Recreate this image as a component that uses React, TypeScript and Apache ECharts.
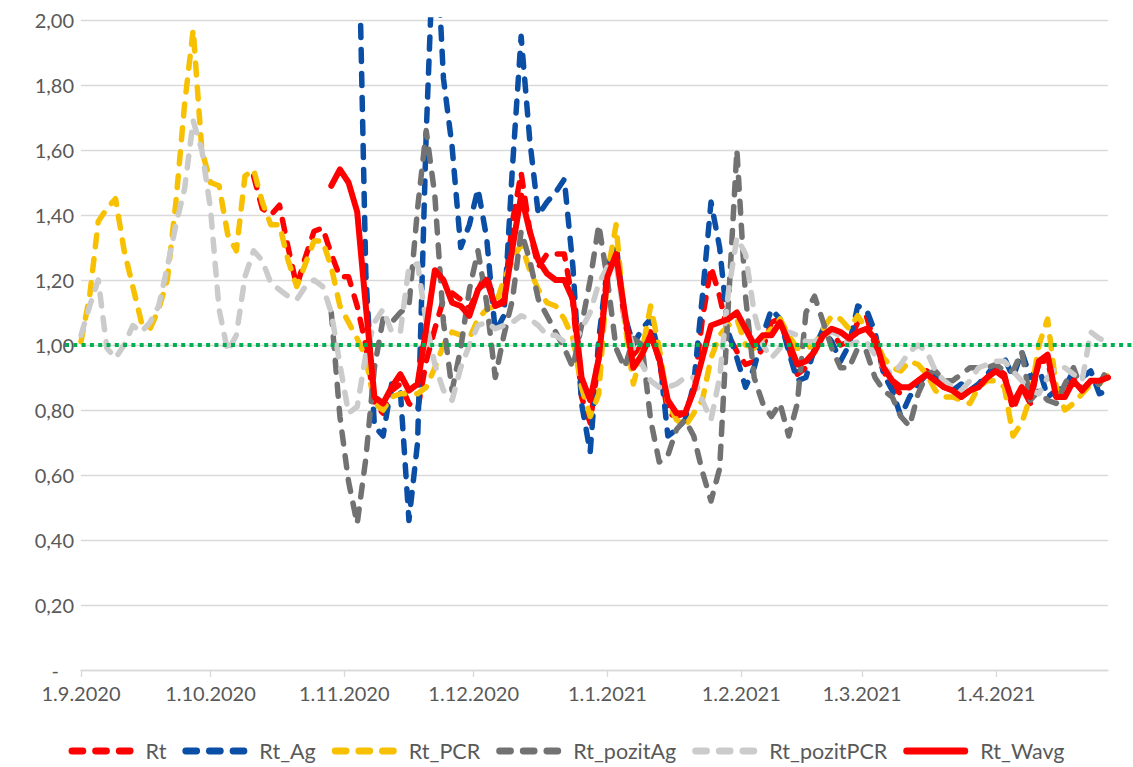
import React, { useEffect, useRef } from "react";
import * as echarts from "echarts";

// Readings are sampled every 2 days from 1.9.2020 to 27.4.2021
const START_YEAR = 2020;
const START_MONTH = 9;
const START_DAY = 1;
const STEP_DAYS = 2;
const POINTS = 120;

const MONTH_TICK_LABELS = ["1.9.2020", "1.10.2020", "1.11.2020", "1.12.2020", "1.1.2021", "1.2.2021", "1.3.2021", "1.4.2021"];

const lead = (n: number) => new Array(n).fill(null);

const RT = [
  ...lead(20),
  1.52, 1.42, 1.4, 1.43, 1.3, 1.18, 1.27, 1.35, 1.36, 1.28,
  1.21, 1.21, 1.12, 1.0, 0.82, 0.79, 0.86, 0.88, 0.82, 0.8,
  0.95, 1.05, 1.14, 1.16, 1.14, 1.11, 1.17, 1.22, 1.12, 1.14,
  1.38, 1.53, 1.35, 1.24, 1.28, 1.28, 1.28, 1.13, 0.84, 0.76,
  0.96, 1.24, 1.29, 1.07, 0.97, 1.0, 1.04, 0.95, 0.79, 0.78,
  0.79, 0.86, 1.08, 1.24, 1.15, 1.03, 0.98, 0.94, 0.95, 0.99,
  1.07, 1.08, 0.99, 0.91, 0.93, 0.98, 1.04, 1.04, 1.0, 1.01,
  1.07, 1.09, 1.0, 0.92, 0.87, 0.85, 0.87, 0.89, 0.92, 0.9,
  0.87, 0.86, 0.84, 0.86, 0.88, 0.9, 0.93, 0.91, 0.8, 0.87,
  0.82, 0.95, 0.95, 0.84, 0.84, 0.9, 0.86, 0.89, 0.89, 0.9,
];

const RT_AG = [
  ...lead(32),
  2.5, 1.22, 0.75, 0.72, 0.88, 0.86, 0.46, 0.7,
  1.65, 2.35, 1.82, 1.61, 1.3, 1.37, 1.48, 1.33, 1.04, 1.09,
  1.55, 1.95, 1.63, 1.4, 1.44, 1.47, 1.51, 1.24, 0.82, 0.67,
  1.02, 1.24, 1.31, 1.09, 1.0, 1.05, 1.08, 0.97, 0.72, 0.74,
  0.77, 0.88, 1.15, 1.44, 1.3, 1.04, 0.96, 0.87, 0.93, 1.03,
  1.11, 1.08, 0.98, 0.89, 0.9, 0.99, 1.05, 1.01, 0.95, 1.0,
  1.12, 1.11, 1.04, 0.91, 0.86, 0.78, 0.84, 0.88, 0.91, 0.91,
  0.87, 0.86, 0.88, 0.86, 0.88, 0.91, 0.94, 0.96, 0.9, 0.98,
  0.9, 0.93, 0.84, 0.86, 0.87, 0.92, 0.9, 0.92, 0.85, 0.86,
];

const RT_PCR = [
  1.01, 1.15, 1.38, 1.42, 1.45, 1.29, 1.18, 1.07, 1.05, 1.11,
  1.2, 1.44, 1.74, 1.97, 1.6, 1.5, 1.49, 1.34, 1.29, 1.52,
  1.54, 1.44, 1.37, 1.37, 1.26, 1.18, 1.25, 1.32, 1.32, 1.24,
  1.12, 1.07, 1.02, 0.96, 0.82, 0.8, 0.84, 0.85, 0.85, 0.85,
  0.87, 0.93, 1.0, 1.04, 1.03, 1.02, 1.08, 1.11, 1.12, 1.2,
  1.26, 1.31, 1.23, 1.17, 1.13, 1.12, 1.08, 1.02, 0.87, 0.78,
  0.85, 1.22, 1.37, 1.07, 0.88, 0.98, 1.12, 0.99, 0.82, 0.77,
  0.75, 0.79, 0.83, 0.96, 1.03, 1.06, 1.08, 1.0, 0.99, 1.02,
  1.05, 1.08, 1.03, 0.99, 0.99, 1.0, 1.05, 1.09, 1.08, 1.05,
  1.09, 1.05, 1.02, 0.96, 0.93, 0.92, 0.95, 0.94, 0.91, 0.86,
  0.84, 0.84, 0.83, 0.82, 0.87, 0.89, 0.89, 0.87, 0.72, 0.76,
  0.84, 1.0, 1.08, 0.87, 0.8, 0.82, 0.85, 0.88, 0.88, 0.91,
];

const RT_POZIT_AG = [
  ...lead(29),
  1.1,
  0.78, 0.58, 0.45, 0.65, 0.93, 1.08, 1.07, 1.1, 1.12, 1.42,
  1.66, 1.46, 1.07, 0.86, 0.99, 1.17, 1.29, 1.13, 0.9, 1.03,
  1.14, 1.35, 1.26, 1.14, 1.09, 1.04, 0.99, 0.93, 1.06, 1.2,
  1.37, 1.2, 0.99, 0.93, 1.02, 1.0, 0.77, 0.64, 0.66, 0.74,
  0.77, 0.72, 0.61, 0.52, 0.62, 1.12, 1.6, 1.15, 0.9, 0.82,
  0.78, 0.82, 0.72, 0.82, 1.1, 1.15, 1.07, 0.99, 0.93, 0.93,
  0.99, 0.98, 0.9, 0.86, 0.84, 0.78, 0.75, 0.85, 0.91, 0.92,
  0.89, 0.89, 0.91, 0.93, 0.93, 0.93, 0.94, 0.92, 0.92, 0.98,
  0.83, 0.86, 0.83, 0.82, 0.88, 0.93, 0.86, 0.89, 0.88, 0.93,
];

const RT_POZIT_PCR = [
  1.03, 1.12, 1.2, 0.99, 0.96, 1.0, 1.06, 1.04, 1.07, 1.12,
  1.24, 1.37, 1.48, 1.69, 1.6, 1.42, 1.11, 0.98, 1.03, 1.21,
  1.29, 1.26, 1.19, 1.17, 1.15, 1.14, 1.18, 1.2, 1.18, 1.1,
  0.94, 0.79, 0.81, 0.97, 1.07, 1.11, 1.04, 1.04, 1.24, 1.25,
  1.07, 0.94, 0.86, 0.83, 0.93, 1.0, 1.06, 1.07, 1.05, 1.06,
  1.07, 1.09, 1.08, 1.06, 1.03, 1.03, 1.01, 1.0, 1.05, 1.1,
  1.19, 1.24, 1.25, 1.08, 0.99, 0.94, 0.89, 0.87, 0.87, 0.88,
  0.9, 0.9, 0.83, 0.77, 0.9, 1.16, 1.33, 1.28, 1.1, 1.0,
  0.96, 0.99, 1.04, 1.03, 1.01, 1.01, 1.03, 1.04, 1.03, 1.0,
  1.01, 1.01, 0.97, 0.93, 0.91, 0.94, 0.98, 1.0, 0.98, 0.92,
  0.89, 0.87, 0.86, 0.89, 0.93, 0.94, 0.95, 0.95, 0.92, 0.89,
  0.86, 0.85, 0.9, 0.93, 0.93, 0.91, 0.89, 1.04, 1.02, 1.01,
];

const RT_WAVG = [
  ...lead(29),
  1.49,
  1.54, 1.5, 1.41, 1.12, 0.84, 0.82, 0.87, 0.91, 0.86, 0.88,
  1.05, 1.23, 1.2, 1.13, 1.12, 1.09, 1.17, 1.2, 1.12, 1.13,
  1.3, 1.46, 1.35, 1.26, 1.22, 1.2, 1.2, 1.14, 0.9, 0.83,
  0.96, 1.21, 1.28, 1.1, 0.93, 0.97, 1.03, 0.96, 0.83, 0.79,
  0.79, 0.86, 0.96, 1.06, 1.07, 1.08, 1.1, 1.05, 1.0, 1.03,
  1.03, 1.07, 1.01, 0.94, 0.95, 0.98, 1.03, 1.05, 1.04, 1.02,
  1.04, 1.05, 1.02, 0.93, 0.89, 0.87, 0.87, 0.89, 0.91, 0.89,
  0.87, 0.86, 0.84, 0.86, 0.87, 0.9, 0.92, 0.9, 0.82, 0.87,
  0.84, 0.95, 0.97, 0.84, 0.84, 0.89, 0.86, 0.89, 0.89, 0.9,
];

// Reference level (green dotted line), drawn across the full chart width
const THRESHOLD = 1.0;
const THRESHOLD_SPAN = [0, 1];

const FONT = "Lato, 'Noto Sans', sans-serif";
const TEXT_COLOR = "#595959";
const GRID_COLOR = "#d9d9d9";

const DASH_ICON =
  "path://M3.5,0h11a3.5,3.5 0 0 1 0,7h-11a3.5,3.5 0 0 1 0,-7z" +
  "M27.5,0h11a3.5,3.5 0 0 1 0,7h-11a3.5,3.5 0 0 1 0,-7z" +
  "M51.5,0h11a3.5,3.5 0 0 1 0,7h-11a3.5,3.5 0 0 1 0,-7z";
const SOLID_ICON = "path://M3.5,0h59a3.5,3.5 0 0 1 0,7h-59a3.5,3.5 0 0 1 0,-7z";

function buildDates(): number[] {
  const out: number[] = [];
  for (let i = 0; i < POINTS; i++) {
    out.push(new Date(START_YEAR, START_MONTH - 1, START_DAY + i * STEP_DAYS).getTime());
  }
  return out;
}

function parseLabel(s: string): number {
  const [d, m, y] = s.split(".").map(Number);
  return new Date(y, m - 1, d).getTime();
}

export default function App() {
  const ref = useRef<HTMLDivElement>(null);

  useEffect(() => {
    if (!ref.current) return;
    const chart = echarts.init(ref.current, undefined, { renderer: "svg" });
    const dates = buildDates();
    const tickValues = MONTH_TICK_LABELS.map(parseLabel);
    const labelFor = (v: number) => {
      let best = 0;
      for (let i = 1; i < tickValues.length; i++) {
        if (Math.abs(tickValues[i] - v) < Math.abs(tickValues[best] - v)) best = i;
      }
      return MONTH_TICK_LABELS[best];
    };

    const toData = (vals: (number | null)[]) =>
      vals.map((v, i) => [dates[i], v]).filter((p) => p[1] !== null && p[1] !== undefined);

    const DASH = [12, 12];

    const dashed = (name: string, vals: (number | null)[], color: string) => ({
      name,
      type: "line",
      data: toData(vals),
      symbol: "none",
      showSymbol: false,
      clip: true,
      lineStyle: { color, width: 5.5, type: DASH, cap: "round", join: "round" },
      itemStyle: { color },
      z: 2,
    });

    const series: any[] = [
      dashed("Rt", RT, "#ff0000"),
      dashed("Rt_Ag", RT_AG, "#0b4ea6"),
      dashed("Rt_PCR", RT_PCR, "#f7c000"),
      dashed("Rt_pozitAg", RT_POZIT_AG, "#727272"),
      dashed("Rt_pozitPCR", RT_POZIT_PCR, "#cbcbcb"),
      {
        name: "Rt_Wavg",
        type: "line",
        data: toData(RT_WAVG),
        symbol: "none",
        showSymbol: false,
        clip: true,
        lineStyle: { color: "#ff0000", width: 6, type: "solid", cap: "round", join: "round" },
        itemStyle: { color: "#ff0000" },
        z: 3,
      },
      {
        name: "threshold",
        type: "line",
        xAxisIndex: 1,
        yAxisIndex: 1,
        data: THRESHOLD_SPAN.map((x) => [x, THRESHOLD]),
        symbol: "none",
        showSymbol: false,
        silent: true,
        clip: false,
        lineStyle: { color: "#00b050", width: 4, type: [4, 4.3], cap: "butt" },
        z: 5,
      },
    ];

    const legendItems = ["Rt", "Rt_Ag", "Rt_PCR", "Rt_pozitAg", "Rt_pozitPCR", "Rt_Wavg"].map((name) => ({
      name,
      icon: name === "Rt_Wavg" ? SOLID_ICON : DASH_ICON,
    }));

    chart.setOption({
      animation: false,
      backgroundColor: "#ffffff",
      textStyle: { fontFamily: FONT },
      grid: [
        { left: 81, right: 25, top: 20, bottom: 97, containLabel: false },
        { left: 65, right: 0, top: 20, bottom: 97, containLabel: false },
      ],
      legend: {
        top: 735,
        left: "center",
        itemWidth: 65,
        itemHeight: 7,
        itemGap: 16,
        textStyle: { color: TEXT_COLOR, fontSize: 21.5, fontFamily: FONT, padding: [0, 0, 0, 7] },
        data: legendItems,
      },
      xAxis: [
        {
          type: "value",
          min: dates[0],
          max: dates[dates.length - 1],
          axisLine: { show: true, lineStyle: { color: GRID_COLOR, width: 1.3 } },
          axisTick: { show: true, customValues: tickValues, length: 7, lineStyle: { color: GRID_COLOR, width: 1.3 } },
          axisLabel: {
            customValues: tickValues,
            formatter: (v: number) => labelFor(v),
            color: TEXT_COLOR,
            fontSize: 20,
            fontFamily: FONT,
            margin: 13,
            showMinLabel: true,
            hideOverlap: false,
          },
          splitLine: { show: false },
        },
        { type: "value", gridIndex: 1, min: 0, max: 1, show: false },
      ],
      yAxis: [
        {
          type: "value",
          min: 0,
          max: 2,
          interval: 0.2,
          axisLine: { show: false },
          axisTick: { show: false },
          splitLine: { lineStyle: { color: GRID_COLOR, width: 1.3 } },
          axisLabel: {
            color: TEXT_COLOR,
            fontSize: 20,
            fontFamily: FONT,
            margin: 7,
            formatter: (v: number) => (v === 0 ? "{z|-}" : v.toFixed(2).replace(".", ",")),
            rich: { z: { color: TEXT_COLOR, fontSize: 20, fontFamily: FONT, padding: [0, 15, 0, 0] } },
          },
        },
        { type: "value", gridIndex: 1, min: 0, max: 2, show: false, splitLine: { show: false } },
      ],
      series,
    });

    return () => chart.dispose();
  }, []);

  return <div ref={ref} style={{ position: "absolute", left: 0, top: 0, width: 1133, height: 767 }} />;
}
